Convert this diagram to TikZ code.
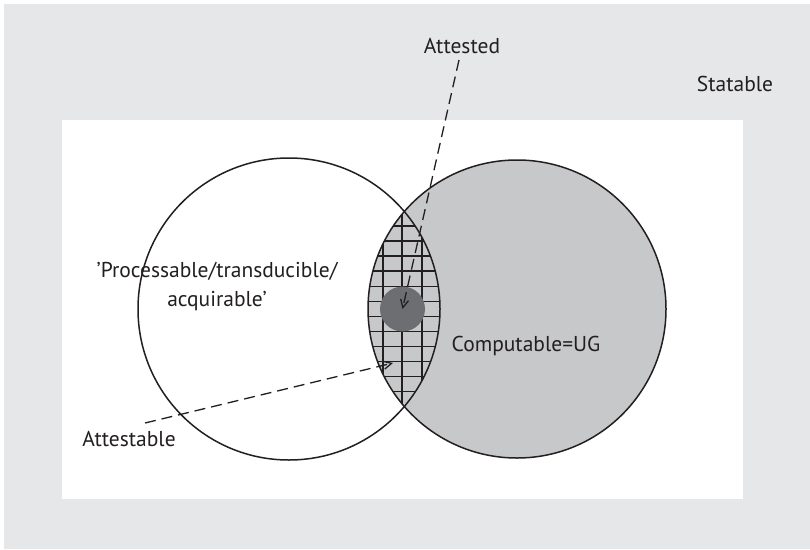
\documentclass[tikz,border=0pt]{standalone}
\usepackage{fontspec}
\setmainfont{PT Sans}
\usetikzlibrary{arrows.meta}
\definecolor{panelgray}{HTML}{E6E7E8}
\definecolor{setgray}{HTML}{C7C8CA}
\definecolor{dotgray}{HTML}{6D6E71}
\definecolor{ink}{HTML}{231F20}
\tikzset{
  setline/.style={draw=ink, line width=1.5pt},
  gridline/.style={draw=ink, line width=1.4pt},
  pointer/.style={draw=ink, line width=1.3pt, dash pattern=on 11pt off 6pt,
    -{Straight Barb[length=8pt,width=8pt,line width=1.3pt]}},
  label/.style={font=\fontsize{21.5}{29}\selectfont, text=ink, inner sep=0pt, align=center},
}
\begin{document}
\begin{tikzpicture}[x=1pt, y=-1pt]
  \useasboundingbox (0,0) rectangle (810,549);
  % outer region: statable
  \fill[white] (0,0) rectangle (810,549);
  \fill[panelgray] (4,4) rectangle (810,549);
  % inner white panel
  \fill[white] (62,120) rectangle (743,499);
  % the two sets
  \fill[setgray] (517,309) circle [radius=149];
  % lens: intersection of the sets, hatched with a grid
  \begin{scope}
    \clip (289,309) circle [radius=151];
    \clip (517,309) circle [radius=149];
    \fill[setgray] (360,200) rectangle (450,420);
    \foreach \gx in {383,402,422}
      \draw[gridline] (\gx,200) -- (\gx,420);
    \foreach \k in {0,...,11}
      \draw[gridline] (360,226+15.05*\k) -- (450,226+15.05*\k);
  \end{scope}
  % attested core
  \node[circle, fill=dotgray, minimum size=45pt, inner sep=0pt] (dot) at (402.5,309) {};
  % outlines
  \draw[setline] (289,309) circle [radius=151];
  \draw[setline] (517,309) circle [radius=149];
  % labels
  \node[label] (attested) at (462,46) {Attested};
  \node[label] (statable) at (735,84) {Statable};
  \node[label] (proc) at (217,286) {'Processable/transducible/\\acquirable'};
  \node[label] (ug) at (526,346) {Computable=UG};
  \node[label] (attestable) at (129,439) {Attestable};
  % pointers
  \coordinate (attestedTail) at (459,60);
  \coordinate (attestableTail) at (145,423);
  \coordinate (attestableTip) at (393,363);
  \draw[pointer] (attestedTail) -- (dot.center);
  \draw[pointer] (attestableTail) -- (attestableTip);
\end{tikzpicture}
\end{document}
